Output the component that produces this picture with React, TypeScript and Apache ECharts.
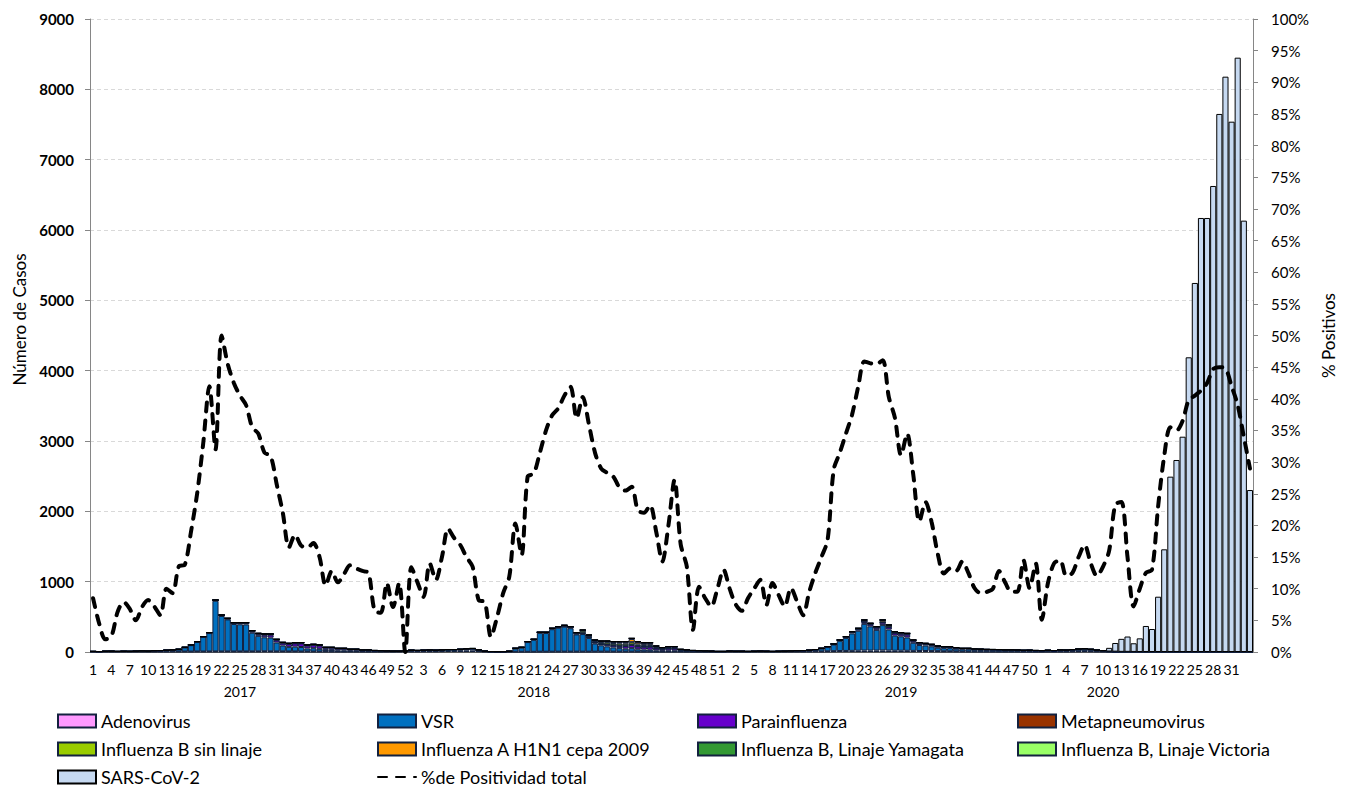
import React, { useEffect, useRef } from "react";
import * as echarts from "echarts";

// ---------- categories ----------
const YEARS = ["2017", "2018", "2019", "2020"];
const WEEKS_PER_YEAR = [52, 52, 52, 34];
const YEAR_LABEL_AT = [24, 72, 132, 165];

// ---------- series values (cases per week) ----------
const ADENO_2017 = [3,3,4,3,4,5,4,5,5,4,5,6,5,6,6,7,6,8,7,8,8,8,9,8,9,8,9,9,10,9,8,9,8,8,7,8,7,6,7,6,6,5,6,5,5,4,5,4,5,4,5,8];
const VSR_2017 = [5,3,6,8,4,5,5,6,9,8,12,13,19,23,31,57,91,136,207,261,720,504,454,390,385,384,265,221,199,195,127,83,65,68,64,42,47,39,23,24,16,17,13,14,10,13,8,8,5,5,4,4];
const PARA_2017 = [0,0,0,0,0,0,0,1,1,1,1,1,1,1,1,2,3,3,4,6,8,10,12,15,18,20,22,25,35,40,35,35,40,45,50,40,45,45,30,30,25,25,18,18,12,10,8,6,5,4,3,3];
const META_2017 = [0,0,0,0,0,0,0,0,0,0,0,0,0,0,0,0,0,0,0,0,0,0,0,0,3,3,5,8,10,10,8,8,8,10,10,8,8,8,5,5,4,4,1,1,1,1,0,0,0,0,0,0];
const INFB_2017 = [0,0,0,0,0,0,0,0,0,0,0,0,0,0,0,0,0,0,0,0,0,0,0,0,0,0,0,0,0,0,0,0,0,0,0,0,0,0,0,0,0,0,0,0,0,0,0,0,0,0,0,0];
const FLUA_2017 = [0,0,0,0,0,0,0,0,0,0,0,0,0,0,0,0,0,0,0,0,3,4,4,4,2,2,2,2,2,2,2,2,2,2,2,2,2,2,1,1,1,1,1,1,1,1,1,0,0,0,0,0];
const YAM_2017 = [0,0,0,0,0,0,0,0,0,0,0,0,0,0,0,0,0,0,0,0,0,0,0,0,0,0,0,0,0,0,0,0,0,0,0,0,0,0,0,0,0,0,0,0,0,0,0,0,0,0,0,0];
const VIC_2017 = [0,0,0,0,0,0,0,0,0,0,0,0,0,0,0,0,0,0,0,0,0,0,0,0,0,0,0,0,0,0,0,0,0,0,0,0,0,0,0,0,0,0,0,0,0,0,0,0,0,0,0,0];
const SARS_2017 = [0,0,0,0,0,0,0,0,0,0,0,0,0,0,0,0,0,0,0,0,0,0,0,0,0,0,0,0,0,0,0,0,0,0,0,0,0,0,0,0,0,0,0,0,0,0,0,0,0,0,0,0];

const ADENO_2018 = [8,8,10,10,10,12,15,15,18,20,22,12,5,3,2,2,3,3,3,3,3,4,4,4,5,5,5,5,5,5,5,5,5,5,5,5,5,4,4,4,4,3,4,5,4,3,3,3,3,3,2,2];
const VSR_2018 = [14,11,12,15,12,15,17,17,17,22,25,15,5,2,2,2,5,45,58,138,170,268,266,320,340,355,333,245,250,195,115,90,75,60,50,42,50,35,30,28,18,13,15,15,8,8,6,5,4,3,3,3];
const PARA_2018 = [3,3,3,3,3,3,3,3,3,3,3,3,2,1,1,1,2,4,5,6,7,8,10,10,10,12,12,12,13,12,15,20,25,28,32,38,45,40,40,42,30,25,30,30,15,12,8,6,5,4,3,3];
const META_2018 = [0,0,0,0,0,0,0,0,0,0,0,0,0,0,0,0,0,0,0,0,0,0,0,0,0,0,0,0,0,0,0,0,3,4,4,5,5,5,4,4,3,3,3,3,2,2,2,2,1,1,0,0];
const INFB_2018 = [0,0,0,0,0,0,0,0,0,0,0,0,0,0,0,0,0,0,0,0,0,0,0,3,5,7,10,13,35,22,22,25,30,30,30,28,35,25,20,20,10,6,8,8,3,2,1,1,1,0,0,0];
const FLUA_2018 = [0,0,0,0,0,0,0,0,0,0,0,0,0,0,0,0,0,0,0,0,0,0,0,0,0,0,0,0,0,0,6,8,10,12,18,22,45,32,30,30,17,10,14,13,5,3,2,1,1,1,0,0];
const YAM_2018 = [0,0,0,0,0,0,0,0,0,0,0,0,0,0,0,0,0,0,0,0,0,0,0,0,0,0,0,0,10,8,8,8,8,8,8,7,9,6,5,5,3,2,2,2,1,0,0,0,0,0,0,0];
const VIC_2018 = [0,0,0,0,0,0,0,0,0,0,0,0,0,0,0,0,0,0,0,0,0,0,0,0,0,0,0,0,0,0,0,0,0,0,0,0,0,0,0,0,0,0,0,0,0,0,0,0,0,0,0,0];
const SARS_2018 = [0,0,0,0,0,0,0,0,0,0,0,0,0,0,0,0,0,0,0,0,0,0,0,0,0,0,0,0,0,0,0,0,0,0,0,0,0,0,0,0,0,0,0,0,0,0,0,0,0,0,0,0];

const ADENO_2019 = [4,3,3,3,4,4,4,3,4,4,5,6,6,7,8,8,10,12,14,15,16,18,20,20,20,22,20,18,18,17,16,14,14,13,12,10,10,8,7,6,6,5,5,5,4,4,4,4,3,3,3,3];
const VSR_2019 = [7,6,6,4,5,7,5,4,5,7,8,10,12,15,23,40,60,94,145,185,248,285,380,345,295,360,300,215,205,190,115,85,78,68,50,45,45,38,32,33,26,25,24,22,22,19,19,18,16,17,15,13];
const PARA_2019 = [1,1,1,1,1,1,1,1,1,1,2,2,2,3,4,4,6,8,10,14,20,25,28,30,30,35,35,35,35,40,28,25,22,20,16,15,15,12,10,10,8,7,6,6,6,5,5,4,4,4,3,3];
const META_2019 = [0,0,0,0,0,0,0,0,0,0,0,0,0,0,0,0,0,0,0,0,0,0,5,5,5,6,4,5,5,6,4,4,4,3,3,3,3,2,1,1,1,1,1,1,1,1,1,1,0,0,0,0];
const INFB_2019 = [0,0,0,0,0,0,0,0,0,0,0,0,0,0,0,0,0,0,0,0,0,0,0,0,0,0,0,0,0,0,0,0,0,0,0,0,0,0,0,0,0,0,0,0,0,0,0,0,0,0,0,0];
const FLUA_2019 = [0,0,0,0,0,0,0,0,0,0,0,0,0,0,0,0,0,0,2,4,5,9,22,8,10,32,25,16,12,12,8,5,5,5,4,3,3,2,2,2,2,2,1,2,1,1,1,1,1,1,1,1];
const YAM_2019 = [0,0,0,0,0,0,0,0,0,0,0,0,0,0,0,0,0,0,0,0,0,0,0,0,0,0,0,0,0,0,0,0,0,0,0,0,0,0,0,0,0,0,0,0,0,0,0,0,0,0,0,0];
const VIC_2019 = [0,0,0,0,0,0,0,0,0,0,0,0,0,0,0,0,0,0,0,0,0,0,0,0,0,0,0,0,0,0,0,0,0,0,0,0,0,0,0,0,0,0,0,0,0,0,0,0,0,0,0,0];
const SARS_2019 = [0,0,0,0,0,0,0,0,0,0,0,0,0,0,0,0,0,0,0,0,0,0,0,0,0,0,0,0,0,0,0,0,0,0,0,0,0,0,0,0,0,0,0,0,0,0,0,0,0,0,0,0];

const ADENO_2020 = [5,5,6,6,8,10,12,10,8,5,3,2,1,1,0,0,0,0,0,0,0,0,0,0,0,0,0,0,0,0,0,0,0,0];
const VSR_2020 = [15,12,18,16,20,25,28,22,15,8,3,2,1,1,1,0,0,0,0,0,0,0,0,0,0,0,0,0,0,0,0,0,0,0];
const PARA_2020 = [3,3,4,4,5,6,6,5,4,2,1,1,0,0,0,0,0,0,0,0,0,0,0,0,0,0,0,0,0,0,0,0,0,0];
const META_2020 = [0,0,0,0,0,0,0,0,0,0,0,0,0,0,0,0,0,0,0,0,0,0,0,0,0,0,0,0,0,0,0,0,0,0];
const INFB_2020 = [0,0,0,0,0,0,0,0,0,0,0,0,0,0,0,0,0,0,0,0,0,0,0,0,0,0,0,0,0,0,0,0,0,0];
const FLUA_2020 = [1,1,1,1,1,1,1,1,0,0,0,0,0,0,0,0,0,0,0,0,0,0,0,0,0,0,0,0,0,0,0,0,0,0];
const YAM_2020 = [0,0,0,0,0,0,0,0,0,0,0,0,0,0,0,0,0,0,0,0,0,0,0,0,0,0,0,0,0,0,0,0,0,0];
const VIC_2020 = [0,0,0,0,0,0,0,0,0,0,0,0,0,0,0,0,0,0,0,0,0,0,0,0,0,0,0,0,0,0,0,0,0,0];
const SARS_2020 = [0,0,0,0,0,0,0,0,0,8,52,123,185,218,123,194,370,327,786,1460,2493,2730,3061,4190,5247,6171,6171,6626,7650,8180,7540,8450,6133,2303];

// ---------- % positivity ----------
const POS_2017 = [8.5,4.5,2,2.5,6.3,7.9,6.8,5,7.1,8.2,7.2,5.8,10,9.3,13.5,13.8,19,25,33,42,32,50,45.5,42.5,40.5,39,35.5,34.5,31.5,31,26.5,22,16.5,18.5,16.8,16.5,17.2,15,10.5,12.8,11,12.3,13.7,13.2,12.8,12.5,6.5,6.2,10.9,7.1,10.9,0];
const POS_2018 = [13.4,11,8.7,14,11.4,15,19.5,18,16.9,15,13.5,8.2,7.9,2.4,5.5,9.3,11.9,20.3,15.3,27.7,28.2,31.5,35,37.4,38.5,40.5,41.9,36.9,40.3,36,31.5,29,28.3,27.7,26,25.5,26.1,22.4,22,23.2,19,14.3,20,27.2,17,13.5,3.5,10.3,8.5,7.2,10,13];
const POS_2019 = [10,7.5,6.5,8.5,10,11.4,7.4,10.9,9,7.2,10.1,8,5.8,9.5,12.5,15,17.7,28.8,31.5,34.5,37.5,41.9,45.9,45.6,45.5,46.1,40.3,37,31.1,34.5,28,20.6,23.7,20.5,15.5,12.4,13.2,12.8,14.3,12.5,10.1,9.3,9.5,10,12.8,11,9.5,9.5,14.5,10.1,14,5.1];
const POS_2020 = [10.9,14,14.5,12,12.5,15,16.9,14,12,13.5,16,23.3,23.7,15,7.2,10,12.5,13,23,31,35.5,35,36.5,39.8,40.5,41.3,42.5,44.7,45,44.8,42,39,34,29];

const WEEK_LABELS: string[] = WEEKS_PER_YEAR.flatMap((n) =>
  Array.from({ length: n }, (_, i) => String(i + 1))
);

const SERIES_DEFS = [
  { name: "Adenovirus", color: "#FF99FF", data: [...ADENO_2017, ...ADENO_2018, ...ADENO_2019, ...ADENO_2020] },
  { name: "VSR", color: "#0070C0", data: [...VSR_2017, ...VSR_2018, ...VSR_2019, ...VSR_2020] },
  { name: "Parainfluenza", color: "#6600CC", data: [...PARA_2017, ...PARA_2018, ...PARA_2019, ...PARA_2020] },
  { name: "Metapneumovirus", color: "#993300", data: [...META_2017, ...META_2018, ...META_2019, ...META_2020] },
  { name: "Influenza B sin linaje", color: "#99CC00", data: [...INFB_2017, ...INFB_2018, ...INFB_2019, ...INFB_2020] },
  { name: "Influenza A H1N1 cepa 2009", color: "#FF9900", data: [...FLUA_2017, ...FLUA_2018, ...FLUA_2019, ...FLUA_2020] },
  { name: "Influenza B, Linaje Yamagata", color: "#339933", data: [...YAM_2017, ...YAM_2018, ...YAM_2019, ...YAM_2020] },
  { name: "Influenza B, Linaje Victoria", color: "#99FF66", data: [...VIC_2017, ...VIC_2018, ...VIC_2019, ...VIC_2020] },
  { name: "SARS-CoV-2", color: "#C6D9F1", data: [...SARS_2017, ...SARS_2018, ...SARS_2019, ...SARS_2020] },
];
const POSITIVITY = [...POS_2017, ...POS_2018, ...POS_2019, ...POS_2020];
const LINE_NAME = "%de Positividad total";

// legend order, read row by row (4 columns)
const LEGEND_ORDER = [
  "Adenovirus", "VSR", "Parainfluenza", "Metapneumovirus",
  "Influenza B sin linaje", "Influenza A H1N1 cepa 2009", "Influenza B, Linaje Yamagata", "Influenza B, Linaje Victoria",
  "SARS-CoV-2", LINE_NAME,
];

const FONT = "Lato, 'Open Sans', sans-serif";
const N_CAT = WEEK_LABELS.length;

export default function App() {
  const ref = useRef<HTMLDivElement>(null);
  useEffect(() => {
    if (!ref.current) return;
    const chart = echarts.init(ref.current, undefined, { renderer: "svg" });
    const colLeft = [57, 377, 697, 1017];
    const rowTop = [712, 740, 768];
    const legends = LEGEND_ORDER.map((name, i) => ({
      orient: "horizontal",
      left: colLeft[i % 4],
      top: rowTop[Math.floor(i / 4)],
      padding: 0,
      itemWidth: 38,
      itemHeight: 13,
      selectedMode: false,
      textStyle: { fontSize: 18, color: "#000", fontFamily: FONT, lineHeight: 18 },
      data: [
        name === LINE_NAME
          ? { name, itemStyle: { opacity: 0, color: "transparent", borderWidth: 0 } }
          : { name, icon: "rect" },
      ],
    }));
    const option: any = {
      animation: false,
      backgroundColor: "#fff",
      textStyle: { fontFamily: FONT },
      grid: { left: 90, right: 95, top: 19, bottom: 135, containLabel: false },
      legend: legends,
      xAxis: [
        {
          type: "category",
          data: WEEK_LABELS,
          boundaryGap: true,
          axisLine: { show: true, lineStyle: { color: "#595959", width: 1 } },
          axisTick: { show: false },
          axisLabel: {
            interval: (i: number) => i % 3 === 0 && i < N_CAT - 1,
            fontSize: 14,
            color: "#000",
            margin: 10,
            fontFamily: FONT,
          },
          splitLine: { show: false },
        },
        {
          type: "category",
          data: WEEK_LABELS,
          position: "bottom",
          offset: 24,
          axisLine: { show: false },
          axisTick: { show: false },
          axisLabel: {
            interval: 0,
            fontSize: 14,
            color: "#000",
            margin: 8,
            fontFamily: FONT,
            formatter: (_v: string, i: number) => {
              const k = YEAR_LABEL_AT.indexOf(i);
              return k >= 0 ? YEARS[k] : "";
            },
          },
          splitLine: { show: false },
        },
      ],
      yAxis: [
        {
          type: "value",
          min: 0,
          max: 9000,
          interval: 1000,
          name: "Número de Casos",
          nameLocation: "middle",
          nameRotate: 90,
          nameGap: 62,
          nameTextStyle: { fontSize: 17, color: "#000", fontFamily: FONT, padding: [0, 0, 0, 32] },
          axisLine: { show: true, lineStyle: { color: "#868686" } },
          axisTick: { show: true, length: 5, lineStyle: { color: "#868686" } },
          axisLabel: {
            fontSize: 15,
            fontWeight: "bold",
            color: "#000",
            margin: 16,
            fontFamily: FONT,
            formatter: (v: number) => String(v),
          },
          splitLine: { show: true, lineStyle: { color: "#D9D9D9", type: [4, 3] } },
        },
        {
          type: "value",
          min: 0,
          max: 100,
          interval: 5,
          position: "right",
          name: "% Positivos",
          nameLocation: "middle",
          nameRotate: 90,
          nameGap: 62,
          nameTextStyle: { fontSize: 17, color: "#000", fontFamily: FONT },
          axisLine: { show: true, lineStyle: { color: "#868686" } },
          axisTick: { show: true, length: 5, lineStyle: { color: "#868686" } },
          axisLabel: { fontSize: 15, color: "#000", margin: 18, formatter: "{value}%", fontFamily: FONT },
          splitLine: { show: false },
        },
      ],
      series: [
        ...SERIES_DEFS.map((s) => ({
          name: s.name,
          type: "bar",
          stack: "casos",
          xAxisIndex: 0,
          yAxisIndex: 0,
          barCategoryGap: "0%",
          data: s.data,
          itemStyle: {
            color: s.color,
            borderColor: s.name === "SARS-CoV-2" ? "#000" : "#13213F",
            borderWidth: 1,
          },
        })),
        {
          name: LINE_NAME,
          type: "line",
          xAxisIndex: 0,
          yAxisIndex: 1,
          data: POSITIVITY,
          symbol: "none",
          showSymbol: false,
          smooth: 0.3,
          z: 10,
          itemStyle: { color: "#000" },
          lineStyle: { color: "#000", width: 4, type: [9, 9], cap: "round" },
        },
      ],
    };
    chart.setOption(option);
    return () => chart.dispose();
  }, []);
  return (
    <div
      ref={ref}
      style={{ position: "absolute", left: 0, top: 0, width: 1348, height: 787, background: "#fff" }}
    />
  );
}
